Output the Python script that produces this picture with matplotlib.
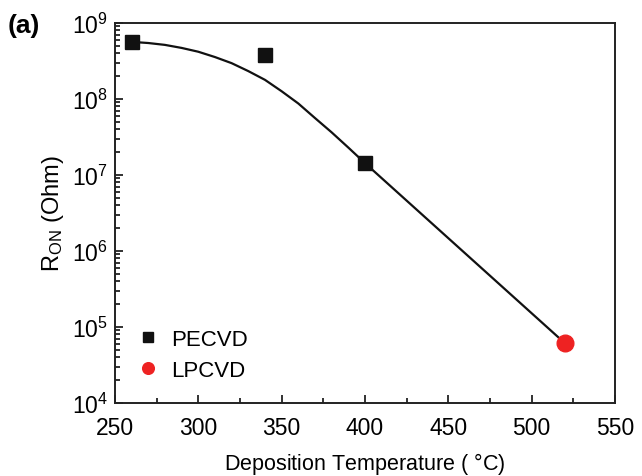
import matplotlib
matplotlib.use("Agg")
from matplotlib import pyplot as plt
from matplotlib.ticker import LogLocator, MultipleLocator, NullFormatter

plt.rcParams["font.family"] = ["Liberation Sans", "DejaVu Sans"]
plt.rcParams["mathtext.fontset"] = "custom"
plt.rcParams["mathtext.rm"] = "Liberation Sans"
plt.rcParams["mathtext.it"] = "Liberation Sans:italic"

# measured points
pecvd_temp = [260, 340, 400]
pecvd_ron = [5.6e8, 3.8e8, 1.45e7]
lpcvd_temp = [520]
lpcvd_ron = [6.1e4]

# fit curve, every 10 degrees
fit_temp = [260, 270, 280, 290, 300, 310, 320, 330, 340, 350,
            360, 370, 380, 390, 400, 520]
fit_ron = [5.62e8, 5.43e8, 5.13e8, 4.68e8, 4.17e8, 3.55e8, 2.95e8, 2.32e8,
           1.78e8, 1.26e8, 8.7e7, 5.6e7, 3.63e7, 2.29e7, 1.43e7, 6.1e4]

fig = plt.figure(figsize=(6.42, 4.77), dpi=100)
ax = fig.add_axes([0.179, 0.153, 0.779, 0.797])

ax.plot(fit_temp, fit_ron, color="#111111", lw=1.6, zorder=2)
ax.plot(pecvd_temp, pecvd_ron, ls="none", marker="s", ms=10.5,
        color="#111111", label="PECVD", zorder=3)
ax.plot(lpcvd_temp, lpcvd_ron, ls="none", marker="o", ms=12,
        color="#ee2222", label="LPCVD", zorder=3)

ax.set_yscale("log")
ax.set_xlim(250, 550)
ax.set_ylim(1e4, 1e9)
ax.xaxis.set_major_locator(MultipleLocator(50))
ax.xaxis.set_minor_locator(MultipleLocator(25))
ax.yaxis.set_major_locator(LogLocator(base=10, numticks=10))
ax.yaxis.set_minor_locator(LogLocator(base=10, subs=range(2, 10), numticks=10))
ax.yaxis.set_minor_formatter(NullFormatter())

ax.tick_params(which="both", direction="in", top=False, right=False,
               labelsize=16.5, width=1.3, color="#222222")
ax.tick_params(which="major", length=6)
ax.tick_params(which="minor", length=3.5)
ax.tick_params(axis="x", which="major", pad=9)
ax.tick_params(axis="y", which="major", pad=5)
for s in ax.spines.values():
    s.set_linewidth(1.4)
    s.set_color("#222222")

ax.set_xlabel("Deposition Temperature ( $\\degree$C)", fontsize=15.5, labelpad=8)
ax.set_ylabel("R$_{\\mathrm{ON}}$ (Ohm)", fontsize=17, labelpad=4)

leg = ax.legend(loc="lower left", bbox_to_anchor=(0.0, 0.0), frameon=False,
                fontsize=16, markerscale=0.7, handlelength=1.0,
                handletextpad=0.55, labelspacing=0.45, borderaxespad=0.7,
                borderpad=0.3)

fig.text(0.012, 0.93, "(a)", fontsize=19, fontweight="bold")

fig.savefig("out.png", dpi=100)
